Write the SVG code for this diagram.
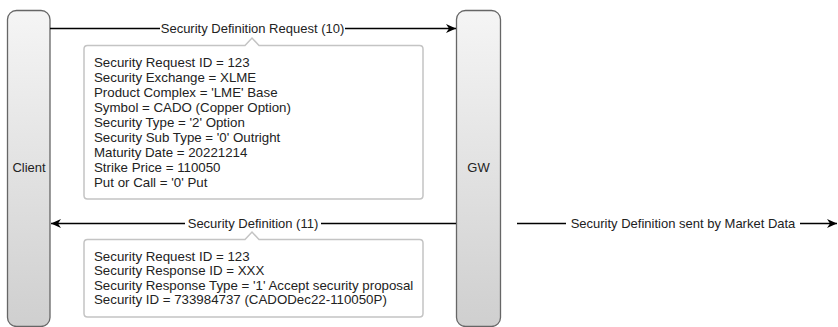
<svg xmlns="http://www.w3.org/2000/svg" width="838" height="327" viewBox="0 0 838 327">
<style>
text{font-family:"Liberation Sans",Arial,sans-serif;font-size:13px;fill:#222}
.nt{font-size:13.3px}
.actor{fill:url(#g);stroke:#666;stroke-width:1.3}
.msg{stroke:#000;stroke-width:1.5;fill:none}
.note{fill:#fff;stroke:#c4c4c4;stroke-width:1.5}
.lbl{fill:#fff}
</style>
<defs>
<linearGradient id="g" x1="0" y1="0" x2="0" y2="1">
<stop offset="0" stop-color="#f5f5f5"/>
<stop offset="1" stop-color="#cfcfcf"/>
</linearGradient>
<marker id="ah" markerWidth="12" markerHeight="10" refX="10" refY="5" orient="auto" markerUnits="userSpaceOnUse">
<path d="M0,0.5 L10,5 L0,9.5 L3,5 Z" fill="#000"/>
</marker>
</defs>
<g id="client">
<rect class="actor" x="7.5" y="10.5" width="42.5" height="316" rx="9"/>
<text x="29" y="172" text-anchor="middle" font-size="12">Client</text>
</g>
<g id="gw">
<rect class="actor" x="456.5" y="10.5" width="44" height="316" rx="9"/>
<text x="478.5" y="172" text-anchor="middle" font-size="12">GW</text>
</g>
<g id="connectors">
<line class="msg" x1="50" y1="28.5" x2="456" y2="28.5" marker-end="url(#ah)"/>
<line class="msg" x1="456" y1="223.5" x2="51" y2="223.5" marker-end="url(#ah)"/>
<line class="msg" x1="517" y1="223.5" x2="837" y2="223.5" marker-end="url(#ah)"/>
<rect class="lbl" x="160" y="20" width="185" height="17"/>
<text x="252.5" y="33" text-anchor="middle">Security Definition Request (10)</text>
<rect class="lbl" x="185" y="215" width="136" height="17"/>
<text x="253" y="228" text-anchor="middle">Security Definition (11)</text>
<rect class="lbl" x="566" y="215" width="234" height="17"/>
<text x="683" y="228" text-anchor="middle">Security Definition sent by Market Data</text>
</g>
<g id="note1">
<path class="note" d="M87.5,45.5 H245 L252,38 L259,45.5 H419.5 Q423,45.5 423,49 V195.5 Q423,199 419.5,199 H87.5 Q84,199 84,195.5 V49 Q84,45.5 87.5,45.5 Z"/>
<text class="nt" x="94">
<tspan x="94" y="67">Security Request ID = 123</tspan>
<tspan x="94" y="82">Security Exchange = XLME</tspan>
<tspan x="94" y="97">Product Complex = 'LME' Base</tspan>
<tspan x="94" y="112">Symbol = CADO (Copper Option)</tspan>
<tspan x="94" y="127">Security Type = '2' Option</tspan>
<tspan x="94" y="142">Security Sub Type = '0' Outright</tspan>
<tspan x="94" y="157">Maturity Date = 20221214</tspan>
<tspan x="94" y="172">Strike Price = 110050</tspan>
<tspan x="94" y="187">Put or Call = '0' Put</tspan>
</text>
</g>
<g id="note2">
<path class="note" d="M87.5,239.5 H245 L252,232 L259,239.5 H419.5 Q423,239.5 423,243 V313.5 Q423,317 419.5,317 H87.5 Q84,317 84,313.5 V243 Q84,239.5 87.5,239.5 Z"/>
<text class="nt" x="94">
<tspan x="94" y="260.5">Security Request ID = 123</tspan>
<tspan x="94" y="275">Security Response ID = XXX</tspan>
<tspan x="94" y="289.5">Security Response Type = '1' Accept security proposal</tspan>
<tspan x="94" y="304">Security ID = 733984737 (CADODec22-110050P)</tspan>
</text>
</g>
</svg>
